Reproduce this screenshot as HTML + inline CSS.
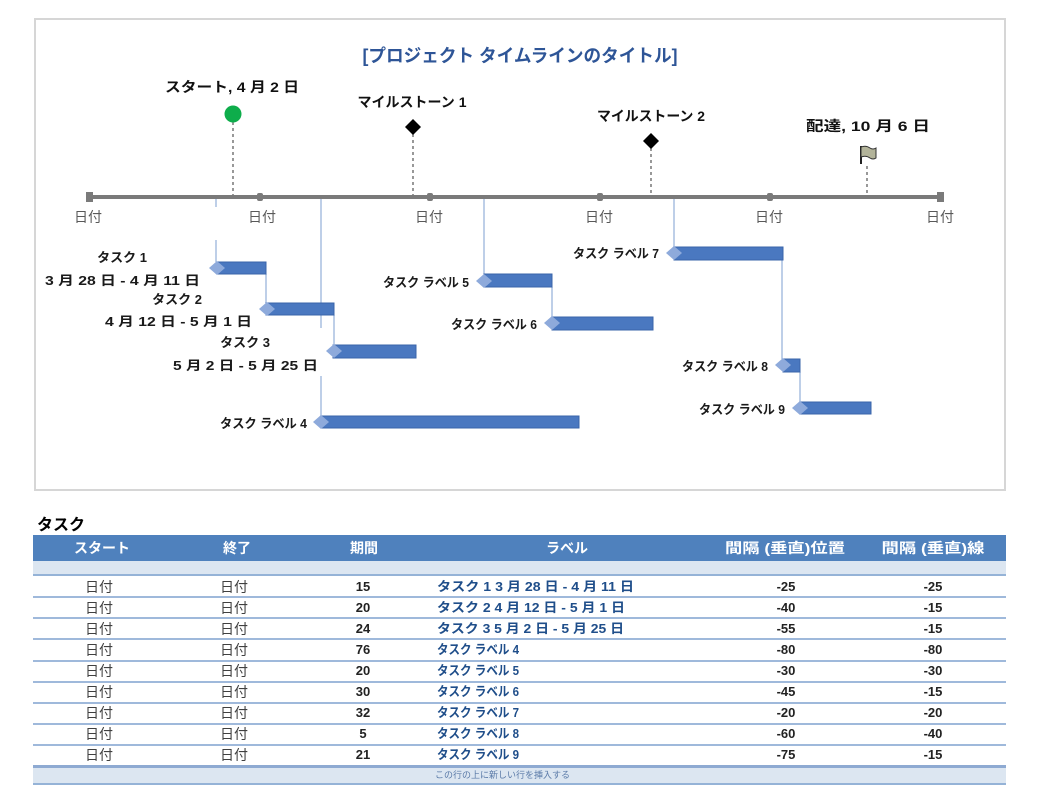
<!DOCTYPE html>
<html><head><meta charset="utf-8">
<style>
html,body{margin:0;padding:0;background:#fff;}
svg{display:block;}
text{font-family:"Liberation Sans","Noto Sans CJK JP",sans-serif;}
.b{font-weight:bold;}
</style></head>
<body>
<svg width="1038" height="800" viewBox="0 0 1038 800" xmlns="http://www.w3.org/2000/svg">
<rect x="0" y="0" width="1038" height="800" fill="#fff"/>
<!-- chart border -->
<rect x="35" y="19" width="970" height="471" fill="#fff" stroke="#d6d6d6" stroke-width="2"/>
<!-- title -->
<text x="520" y="62" text-anchor="middle" font-size="18" fill="#2e5597" class="b" textLength="315" lengthAdjust="spacingAndGlyphs">[プロジェクト タイムラインのタイトル]</text>

<!-- milestone labels -->
<text x="232" y="92" text-anchor="middle" font-size="14" class="b" fill="#111" textLength="134" lengthAdjust="spacingAndGlyphs">スタート, 4 月 2 日</text>
<text x="412" y="107" text-anchor="middle" font-size="14" class="b" fill="#111" textLength="109" lengthAdjust="spacingAndGlyphs">マイルストーン 1</text>
<text x="651" y="121" text-anchor="middle" font-size="14" class="b" fill="#111" textLength="108" lengthAdjust="spacingAndGlyphs">マイルストーン 2</text>
<text x="868" y="131" text-anchor="middle" font-size="14" class="b" fill="#111" textLength="124" lengthAdjust="spacingAndGlyphs">配達, 10 月 6 日</text>

<!-- dashed drop lines -->
<g stroke="#555" stroke-width="1.2" stroke-dasharray="3,3">
<line x1="233" y1="122" x2="233" y2="195"/>
<line x1="413" y1="134" x2="413" y2="195"/>
<line x1="651" y1="148" x2="651" y2="195"/>
<line x1="867" y1="166" x2="867" y2="195"/>
</g>
<!-- markers -->
<circle cx="233" cy="114" r="8.5" fill="#0ead4b"/>
<polygon points="413,119 421,127 413,135 405,127" fill="#000"/>
<polygon points="651,133 659,141 651,149 643,141" fill="#000"/>
<!-- flag -->
<line x1="861" y1="146" x2="861" y2="164" stroke="#222" stroke-width="2"/>
<path d="M861,147 Q866,145 870,148 Q873,150 876,148 L876,158 Q873,160 870,158 Q866,155 861,157 Z" fill="#b3b49a" stroke="#333" stroke-width="1"/>

<!-- axis -->
<rect x="88" y="195" width="854" height="4" fill="#7a7a7a"/>
<g fill="#7a7a7a">
<rect x="86" y="192" width="7" height="10"/>
<rect x="257" y="193" width="6" height="8" rx="2"/>
<rect x="427" y="193" width="6" height="8" rx="2"/>
<rect x="597" y="193" width="6" height="8" rx="2"/>
<rect x="767" y="193" width="6" height="8" rx="2"/>
<rect x="937" y="192" width="7" height="10"/>
</g>
<g font-size="14" fill="#595959" text-anchor="middle">
<text x="88" y="222">日付</text>
<text x="262" y="222">日付</text>
<text x="429" y="222">日付</text>
<text x="599" y="222">日付</text>
<text x="769" y="222">日付</text>
<text x="940" y="222">日付</text>
</g>

<!-- connector lines -->
<g stroke="#a9bfe0" stroke-width="1.5">
<line x1="216" y1="199" x2="216" y2="207"/>
<line x1="216" y1="240" x2="216" y2="262"/>
<line x1="266" y1="274" x2="266" y2="303"/>
<line x1="334" y1="315" x2="334" y2="345"/>
<line x1="321" y1="199" x2="321" y2="328"/>
<line x1="321" y1="376" x2="321" y2="416"/>
<line x1="484" y1="199" x2="484" y2="274"/>
<line x1="552" y1="287" x2="552" y2="317"/>
<line x1="674" y1="199" x2="674" y2="247"/>
<line x1="782" y1="260" x2="782" y2="359"/>
<line x1="800" y1="372" x2="800" y2="402"/>
</g>

<!-- bars -->
<g fill="#4a78c0" stroke="#3a64aa" stroke-width="1">
<rect x="217" y="262" width="49" height="12"/>
<rect x="266" y="303" width="68" height="12"/>
<rect x="333" y="345" width="83" height="13"/>
<rect x="321" y="416" width="258" height="12"/>
<rect x="484" y="274" width="68" height="13"/>
<rect x="552" y="317" width="101" height="13"/>
<rect x="674" y="247" width="109" height="13"/>
<rect x="783" y="359" width="17" height="13"/>
<rect x="800" y="402" width="71" height="12"/>
</g>
<g fill="#8eaadb">
<polygon points="209,268 217,261 225,268 217,275"/>
<polygon points="259,309 267,302 275,309 267,316"/>
<polygon points="326,351 334,344 342,351 334,358"/>
<polygon points="313,422 321,415 329,422 321,429"/>
<polygon points="476,281 484,274 492,281 484,288"/>
<polygon points="544,323 552,316 560,323 552,330"/>
<polygon points="666,253 674,246 682,253 674,260"/>
<polygon points="775,365 783,358 791,365 783,372"/>
<polygon points="792,408 800,401 808,408 800,415"/>
</g>

<!-- task labels -->
<g font-size="13" class="b" fill="#1a1a1a" text-anchor="end">
<text x="147" y="262">タスク 1</text>
<text x="200" y="285" textLength="155" lengthAdjust="spacingAndGlyphs">3 月 28 日 - 4 月 11 日</text>
<text x="202" y="304">タスク 2</text>
<text x="252" y="326" textLength="147" lengthAdjust="spacingAndGlyphs">4 月 12 日 - 5 月 1 日</text>
<text x="270" y="347">タスク 3</text>
<text x="318" y="370" textLength="145" lengthAdjust="spacingAndGlyphs">5 月 2 日 - 5 月 25 日</text>
<text x="307" y="428" textLength="87" lengthAdjust="spacingAndGlyphs">タスク ラベル 4</text>
<text x="469" y="287" textLength="86" lengthAdjust="spacingAndGlyphs">タスク ラベル 5</text>
<text x="537" y="329" textLength="86" lengthAdjust="spacingAndGlyphs">タスク ラベル 6</text>
<text x="659" y="258" textLength="86" lengthAdjust="spacingAndGlyphs">タスク ラベル 7</text>
<text x="768" y="371" textLength="86" lengthAdjust="spacingAndGlyphs">タスク ラベル 8</text>
<text x="785" y="414" textLength="86" lengthAdjust="spacingAndGlyphs">タスク ラベル 9</text>
</g>

<!-- TABLE -->
<text x="37" y="530" font-size="16" class="b" fill="#000">タスク</text>
<rect x="33" y="535" width="973" height="26" fill="#4f81bd"/>
<g font-size="14" class="b" fill="#fff" text-anchor="middle">
<text x="102" y="553">スタート</text>
<text x="237" y="553">終了</text>
<text x="364" y="553">期間</text>
<text x="567" y="553">ラベル</text>
<text x="785" y="553" textLength="120" lengthAdjust="spacingAndGlyphs">間隔 (垂直)位置</text>
<text x="933" y="553" textLength="103" lengthAdjust="spacingAndGlyphs">間隔 (垂直)線</text>
</g>
<rect x="33" y="561" width="973" height="13" fill="#dce6f1"/>
<rect x="33" y="574" width="973" height="2" fill="#95b3d7"/>
<g fill="#9fb9db">
<rect x="33" y="596" width="973" height="2"/>
<rect x="33" y="617" width="973" height="2"/>
<rect x="33" y="638" width="973" height="2"/>
<rect x="33" y="660" width="973" height="2"/>
<rect x="33" y="681" width="973" height="2"/>
<rect x="33" y="702" width="973" height="2"/>
<rect x="33" y="723" width="973" height="2"/>
<rect x="33" y="744" width="973" height="2"/>
</g>
<rect x="33" y="765" width="973" height="3" fill="#8eaad2"/>
<rect x="33" y="768" width="973" height="15" fill="#dce6f1"/>
<rect x="33" y="783" width="973" height="2" fill="#95b3d7"/>
<text x="435" y="778" font-size="9" fill="#5a7aa8">この行の上に新しい行を挿入する</text>

<g font-size="14" fill="#404040" text-anchor="middle">
<text x="99" y="592">日付</text><text x="234" y="592">日付</text>
<text x="99" y="613">日付</text><text x="234" y="613">日付</text>
<text x="99" y="634">日付</text><text x="234" y="634">日付</text>
<text x="99" y="655">日付</text><text x="234" y="655">日付</text>
<text x="99" y="676">日付</text><text x="234" y="676">日付</text>
<text x="99" y="697">日付</text><text x="234" y="697">日付</text>
<text x="99" y="718">日付</text><text x="234" y="718">日付</text>
<text x="99" y="739">日付</text><text x="234" y="739">日付</text>
<text x="99" y="760">日付</text><text x="234" y="760">日付</text>
</g>
<g font-size="13" class="b" fill="#222" text-anchor="middle">
<text x="363" y="591">15</text><text x="786" y="591">-25</text><text x="933" y="591">-25</text>
<text x="363" y="612">20</text><text x="786" y="612">-40</text><text x="933" y="612">-15</text>
<text x="363" y="633">24</text><text x="786" y="633">-55</text><text x="933" y="633">-15</text>
<text x="363" y="654">76</text><text x="786" y="654">-80</text><text x="933" y="654">-80</text>
<text x="363" y="675">20</text><text x="786" y="675">-30</text><text x="933" y="675">-30</text>
<text x="363" y="696">30</text><text x="786" y="696">-45</text><text x="933" y="696">-15</text>
<text x="363" y="717">32</text><text x="786" y="717">-20</text><text x="933" y="717">-20</text>
<text x="363" y="738">5</text><text x="786" y="738">-60</text><text x="933" y="738">-40</text>
<text x="363" y="759">21</text><text x="786" y="759">-75</text><text x="933" y="759">-15</text>
</g>
<g font-size="13" class="b" fill="#1f4e8a">
<text x="437" y="591" textLength="197" lengthAdjust="spacingAndGlyphs">タスク 1 3 月 28 日 - 4 月 11 日</text>
<text x="437" y="612" textLength="188" lengthAdjust="spacingAndGlyphs">タスク 2 4 月 12 日 - 5 月 1 日</text>
<text x="437" y="633" textLength="187" lengthAdjust="spacingAndGlyphs">タスク 3 5 月 2 日 - 5 月 25 日</text>
<text x="437" y="654" textLength="82" lengthAdjust="spacingAndGlyphs">タスク ラベル 4</text>
<text x="437" y="675" textLength="82" lengthAdjust="spacingAndGlyphs">タスク ラベル 5</text>
<text x="437" y="696" textLength="82" lengthAdjust="spacingAndGlyphs">タスク ラベル 6</text>
<text x="437" y="717" textLength="82" lengthAdjust="spacingAndGlyphs">タスク ラベル 7</text>
<text x="437" y="738" textLength="82" lengthAdjust="spacingAndGlyphs">タスク ラベル 8</text>
<text x="437" y="759" textLength="82" lengthAdjust="spacingAndGlyphs">タスク ラベル 9</text>
</g>
</svg>
</body></html>
